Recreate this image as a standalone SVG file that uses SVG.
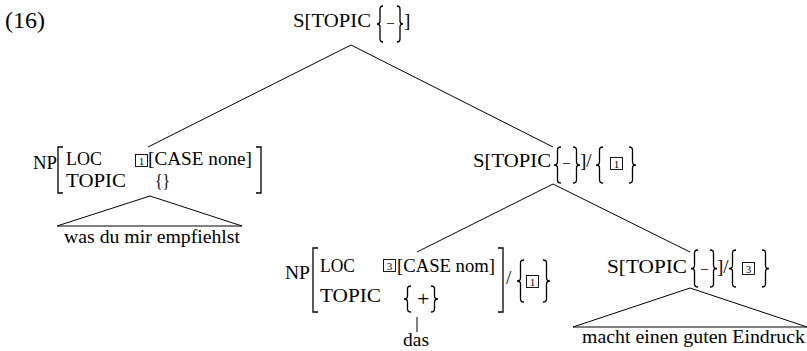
<svg xmlns="http://www.w3.org/2000/svg" width="807" height="351" viewBox="0 0 807 351">
<style>
.t{font-family:"Liberation Serif","DejaVu Serif",serif;font-size:19px;fill:#000}
.d{font-family:"Liberation Serif","DejaVu Serif",serif;font-size:11px;fill:#000;text-anchor:middle}
.ln{stroke:#000;stroke-width:1;fill:none}
.br{stroke:#000;stroke-width:1.3;fill:none}
.bx{fill:none;stroke:#000;stroke-width:0.9}
</style>
<rect width="807" height="351" fill="#fff"/>
<text class="t" x="5" y="28" style="font-size:24px" textLength="40" lengthAdjust="spacingAndGlyphs">(16)</text>

<g id="connectors">
<path class="ln" d="M351,45 L148,147 M351,45 L553,147"/>
<path class="ln" d="M553,184 L417,252 M553,184 L690,252"/>
<path class="ln" d="M150,196 L57,226 L242,226 Z"/>
<path class="ln" d="M690,288 L573,327 L807,327 Z"/>
<path class="ln" d="M417,317 V332"/>
</g>

<g id="s-root">
<text class="t" x="293" y="27" textLength="78" lengthAdjust="spacingAndGlyphs">S[TOPIC</text>
<path class="br" d="M383,6 Q380,6 380,9 L380,21 Q380,24 377,24 Q380,24 380,27 L380,39 Q380,42 383,42"/>
<text class="t" x="387" y="27" style="font-size:14px">–</text>
<path class="br" d="M397,6 Q400,6 400,9 L400,21 Q400,24 403,24 Q400,24 400,27 L400,39 Q400,42 397,42"/>
<text class="t" x="404" y="27">]</text>
</g>

<g id="np-was">
<text class="t" x="33" y="169" textLength="24" lengthAdjust="spacingAndGlyphs">NP</text>
<path class="br" d="M63,147 H58 V193 H63"/>
<text class="t" x="66" y="165" textLength="36" lengthAdjust="spacingAndGlyphs">LOC</text>
<text class="t" x="66" y="187" textLength="60" lengthAdjust="spacingAndGlyphs">TOPIC</text>
<rect class="bx" x="135.5" y="154.5" width="12" height="12"/>
<text class="d" x="141.5" y="164.5">1</text>
<text class="t" x="148" y="165" textLength="104" lengthAdjust="spacingAndGlyphs">[CASE none]</text>
<text class="t" x="155" y="187" textLength="15" lengthAdjust="spacingAndGlyphs">{}</text>
<path class="br" d="M256,147 H261 V193 H256"/>
</g>

<g id="s-mid">
<text class="t" x="473" y="167" textLength="78" lengthAdjust="spacingAndGlyphs">S[TOPIC</text>
<path class="br" d="M561,147 Q557.5,147 557.5,150 L557.5,162 Q557.5,165 554,165 Q557.5,165 557.5,168 L557.5,180 Q557.5,183 561,183"/>
<text class="t" x="563" y="167" style="font-size:14px">–</text>
<path class="br" d="M573,147 Q576.5,147 576.5,150 L576.5,162 Q576.5,165 580,165 Q576.5,165 576.5,168 L576.5,180 Q576.5,183 573,183"/>
<text class="t" x="580" y="167">]/</text>
<path class="br" d="M603,147 Q599.5,147 599.5,150 L599.5,162 Q599.5,165 596,165 Q599.5,165 599.5,168 L599.5,180 Q599.5,183 603,183"/>
<rect class="bx" x="610.5" y="157.5" width="12" height="12"/>
<text class="d" x="616.5" y="167.5">1</text>
<path class="br" d="M629,147 Q632.5,147 632.5,150 L632.5,162 Q632.5,165 636,165 Q632.5,165 632.5,168 L632.5,180 Q632.5,183 629,183"/>
</g>

<g id="np-das">
<text class="t" x="285" y="279" textLength="25" lengthAdjust="spacingAndGlyphs">NP</text>
<path class="br" d="M318,248 H313 V312 H318"/>
<text class="t" x="320" y="272" textLength="35" lengthAdjust="spacingAndGlyphs">LOC</text>
<text class="t" x="320" y="302" textLength="61" lengthAdjust="spacingAndGlyphs">TOPIC</text>
<rect class="bx" x="383.5" y="259.5" width="12" height="12"/>
<text class="d" x="389.5" y="269.5">3</text>
<text class="t" x="397" y="272" textLength="98" lengthAdjust="spacingAndGlyphs">[CASE nom]</text>
<path class="br" d="M411,286 Q407.5,286 407.5,289 L407.5,296 Q407.5,299 404,299 Q407.5,299 407.5,302 L407.5,309 Q407.5,312 411,312"/>
<text class="t" x="417" y="306" style="font-size:22px">+</text>
<path class="br" d="M431,286 Q434.5,286 434.5,289 L434.5,296 Q434.5,299 438,299 Q434.5,299 434.5,302 L434.5,309 Q434.5,312 431,312"/>
<path class="br" d="M498,248 H503 V312 H498"/>
<text class="t" x="506" y="284">/</text>
<path class="br" d="M524,260 Q520.5,260 520.5,263 L520.5,278 Q520.5,281 517,281 Q520.5,281 520.5,284 L520.5,299 Q520.5,302 524,302"/>
<rect class="bx" x="526.5" y="275.5" width="12" height="12"/>
<text class="d" x="532.5" y="285.5">1</text>
<path class="br" d="M543,260 Q546.5,260 546.5,263 L546.5,278 Q546.5,281 550,281 Q546.5,281 546.5,284 L546.5,299 Q546.5,302 543,302"/>
<text class="t" x="403" y="346" textLength="26" lengthAdjust="spacingAndGlyphs">das</text>
</g>

<g id="s-right">
<text class="t" x="607" y="273" textLength="80" lengthAdjust="spacingAndGlyphs">S[TOPIC</text>
<path class="br" d="M698,250 Q694.5,250 694.5,253 L694.5,265.5 Q694.5,268.5 691,268.5 Q694.5,268.5 694.5,271.5 L694.5,284 Q694.5,287 698,287"/>
<text class="t" x="701" y="273" style="font-size:14px">–</text>
<path class="br" d="M710,250 Q713.5,250 713.5,253 L713.5,265.5 Q713.5,268.5 717,268.5 Q713.5,268.5 713.5,271.5 L713.5,284 Q713.5,287 710,287"/>
<text class="t" x="717" y="273">]/</text>
<path class="br" d="M736,250 Q732.5,250 732.5,253 L732.5,265.5 Q732.5,268.5 729,268.5 Q732.5,268.5 732.5,271.5 L732.5,284 Q732.5,287 736,287"/>
<rect class="bx" x="742.5" y="262.5" width="12" height="12"/>
<text class="d" x="748.5" y="272.5">3</text>
<path class="br" d="M762,250 Q765.5,250 765.5,253 L765.5,265.5 Q765.5,268.5 769,268.5 Q765.5,268.5 765.5,271.5 L765.5,284 Q765.5,287 762,287"/>
</g>

<g id="leaf-was">
<text class="t" x="64" y="243" textLength="176" lengthAdjust="spacingAndGlyphs">was du mir empfiehlst</text>
</g>
<g id="leaf-macht">
<text class="t" x="582" y="343" textLength="223" lengthAdjust="spacingAndGlyphs">macht einen guten Eindruck</text>
</g>
</svg>
